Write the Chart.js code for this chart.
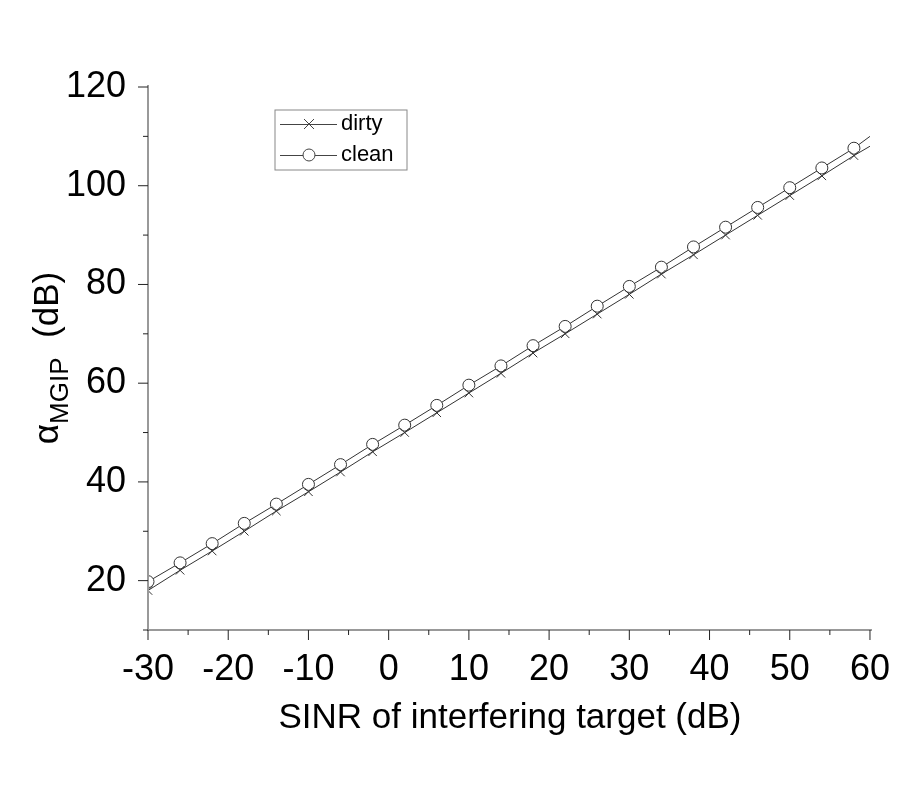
<!DOCTYPE html>
<html>
<head>
<meta charset="utf-8">
<script src="https://cdn.jsdelivr.net/npm/chart.js@4"></script>
<style>
  body { margin: 0; background: #fff; }
  #wrap { width: 900px; height: 800px; }
</style>
</head>
<body>
<div id="wrap"><canvas id="c" width="900" height="800"></canvas></div>
<script>
// ========== data ==========
const sinrX = [-30, -26, -22, -18, -14, -10, -6, -2, 2, 6, 10, 14, 18, 22, 26, 30, 34, 38, 42, 46, 50, 54, 58, 60];
const dirty = [18, 22.1, 26, 30, 34.1, 38, 42, 46.1, 50, 54, 58, 62, 66.1, 70, 74, 78, 82.1, 86, 90, 94, 98, 102, 106.1, 108];
const clean = [19.8, 23.6, 27.5, 31.6, 35.5, 39.5, 43.5, 47.6, 51.5, 55.5, 59.6, 63.5, 67.6, 71.5, 75.6, 79.6, 83.5, 87.6, 91.6, 95.6, 99.6, 103.6, 107.6, 110];
const xTicks = [-30, -20, -10, 0, 10, 20, 30, 40, 50, 60];
const yTicks = [20, 40, 60, 80, 100, 120];

const FONT = "'Liberation Sans', Arial, sans-serif";
const toPts = (ys) => sinrX.map((x, i) => ({ x, y: ys[i] }));
// no marker on the line end at 60
const radii = sinrX.map((x) => (x === 60 ? 0 : 6));

// ========== plugins ==========
const axesPlugin = {
  id: "axesDraw",
  afterDraw(chart) {
    const { ctx, chartArea: a, scales } = chart;
    ctx.save();
    ctx.strokeStyle = "#999";
    ctx.lineWidth = 2;
    ctx.beginPath();
    ctx.moveTo(a.left, a.top - 2);
    ctx.lineTo(a.left, a.bottom);
    ctx.lineTo(a.right + 2, a.bottom);
    ctx.stroke();
    ctx.strokeStyle = "#222";
    ctx.lineWidth = 1;
    for (let v = 10; v <= 120; v += 10) {
      const y = scales.y.getPixelForValue(v);
      const len = v % 20 === 0 ? 10 : 5;
      ctx.beginPath(); ctx.moveTo(a.left - len, y); ctx.lineTo(a.left, y); ctx.stroke();
    }
    for (let v = -30; v <= 60; v += 5) {
      const x = scales.x.getPixelForValue(v);
      const len = v % 10 === 0 ? 10 : 5;
      ctx.beginPath(); ctx.moveTo(x, a.bottom); ctx.lineTo(x, a.bottom + len); ctx.stroke();
    }
    // x title
    ctx.fillStyle = "#000";
    ctx.font = "35px " + FONT;
    ctx.textAlign = "center";
    ctx.textBaseline = "middle";
    ctx.fillText("SINR of interfering target (dB)", 510, 718);
    ctx.textAlign = "left";
    // y title with subscript
    ctx.translate(48, 358);
    ctx.rotate(-Math.PI / 2);
    ctx.textBaseline = "alphabetic";
    const parts = [["\u03b1", 35, 0], ["MGIP", 26, 10], ["  (dB)", 35, 0]];
    let total = 0;
    parts.forEach(([t, s]) => { ctx.font = s + "px " + FONT; total += ctx.measureText(t).width; });
    let px = -total / 2;
    parts.forEach(([t, s, dy]) => {
      ctx.font = s + "px " + FONT;
      ctx.fillText(t, px, 10 + dy);
      px += ctx.measureText(t).width;
    });
    ctx.restore();

    // legend
    ctx.save();
    const lx = 275, ly = 110;
    ctx.strokeStyle = "#888";
    ctx.lineWidth = 1;
    ctx.strokeRect(lx, ly, 132, 60);
    ctx.font = "22px " + FONT;
    ctx.fillStyle = "#000";
    ctx.textBaseline = "middle";
    [["dirty", "crossRot", 124], ["clean", "circle", 155]].forEach(([lab, st, y]) => {
      ctx.strokeStyle = "#444";
      ctx.beginPath(); ctx.moveTo(lx + 5, y + 0.5); ctx.lineTo(lx + 62, y + 0.5); ctx.stroke();
      if (st === "circle") {
        ctx.fillStyle = "#fff";
        ctx.beginPath(); ctx.arc(lx + 34, y, 6, 0, Math.PI * 2); ctx.fill(); ctx.stroke();
      } else {
        ctx.beginPath();
        ctx.moveTo(lx + 29, y - 5); ctx.lineTo(lx + 39, y + 5);
        ctx.moveTo(lx + 39, y - 5); ctx.lineTo(lx + 29, y + 5);
        ctx.stroke();
      }
      ctx.fillStyle = "#000";
      ctx.fillText(lab, lx + 66, y);
    });
    ctx.restore();
  },
};

// ========== chart ==========
new Chart(document.getElementById("c"), {
  type: "line",
  data: {
    datasets: [
      {
        label: "dirty",
        data: toPts(dirty),
        borderColor: "#333",
        borderWidth: 1,
        pointStyle: "crossRot",
        pointRadius: radii,
        pointBorderColor: "#333",
        pointBorderWidth: 1,
      },
      {
        label: "clean",
        data: toPts(clean),
        borderColor: "#333",
        borderWidth: 1,
        pointStyle: "circle",
        pointRadius: radii,
        pointBackgroundColor: "#fff",
        pointBorderColor: "#333",
        pointBorderWidth: 1,
      },
    ],
  },
  options: {
    responsive: false,
    animation: false,
    layout: { padding: { top: 87, right: 24, left: 0, bottom: 0 } },
    plugins: { legend: { display: false }, tooltip: { enabled: false } },
    scales: {
      x: {
        type: "linear",
        min: -30,
        max: 60,
        afterBuildTicks: (s) => { s.ticks = xTicks.map((v) => ({ value: v })); },
        afterFit: (s) => { s.height = 170; },
        grid: { display: false },
        border: { display: false },
        ticks: { color: "#000", font: { family: FONT, size: 36 }, padding: 10, maxRotation: 0 },
      },
      y: {
        type: "linear",
        min: 10,
        max: 120,
        afterBuildTicks: (s) => { s.ticks = yTicks.map((v) => ({ value: v })); },
        afterFit: (s) => { s.width = 148; },
        grid: { display: false },
        border: { display: false },
        ticks: { color: "#000", font: { family: FONT, size: 36 }, padding: 14 },
      },
    },
  },
  plugins: [axesPlugin],
});
</script>
</body>
</html>
